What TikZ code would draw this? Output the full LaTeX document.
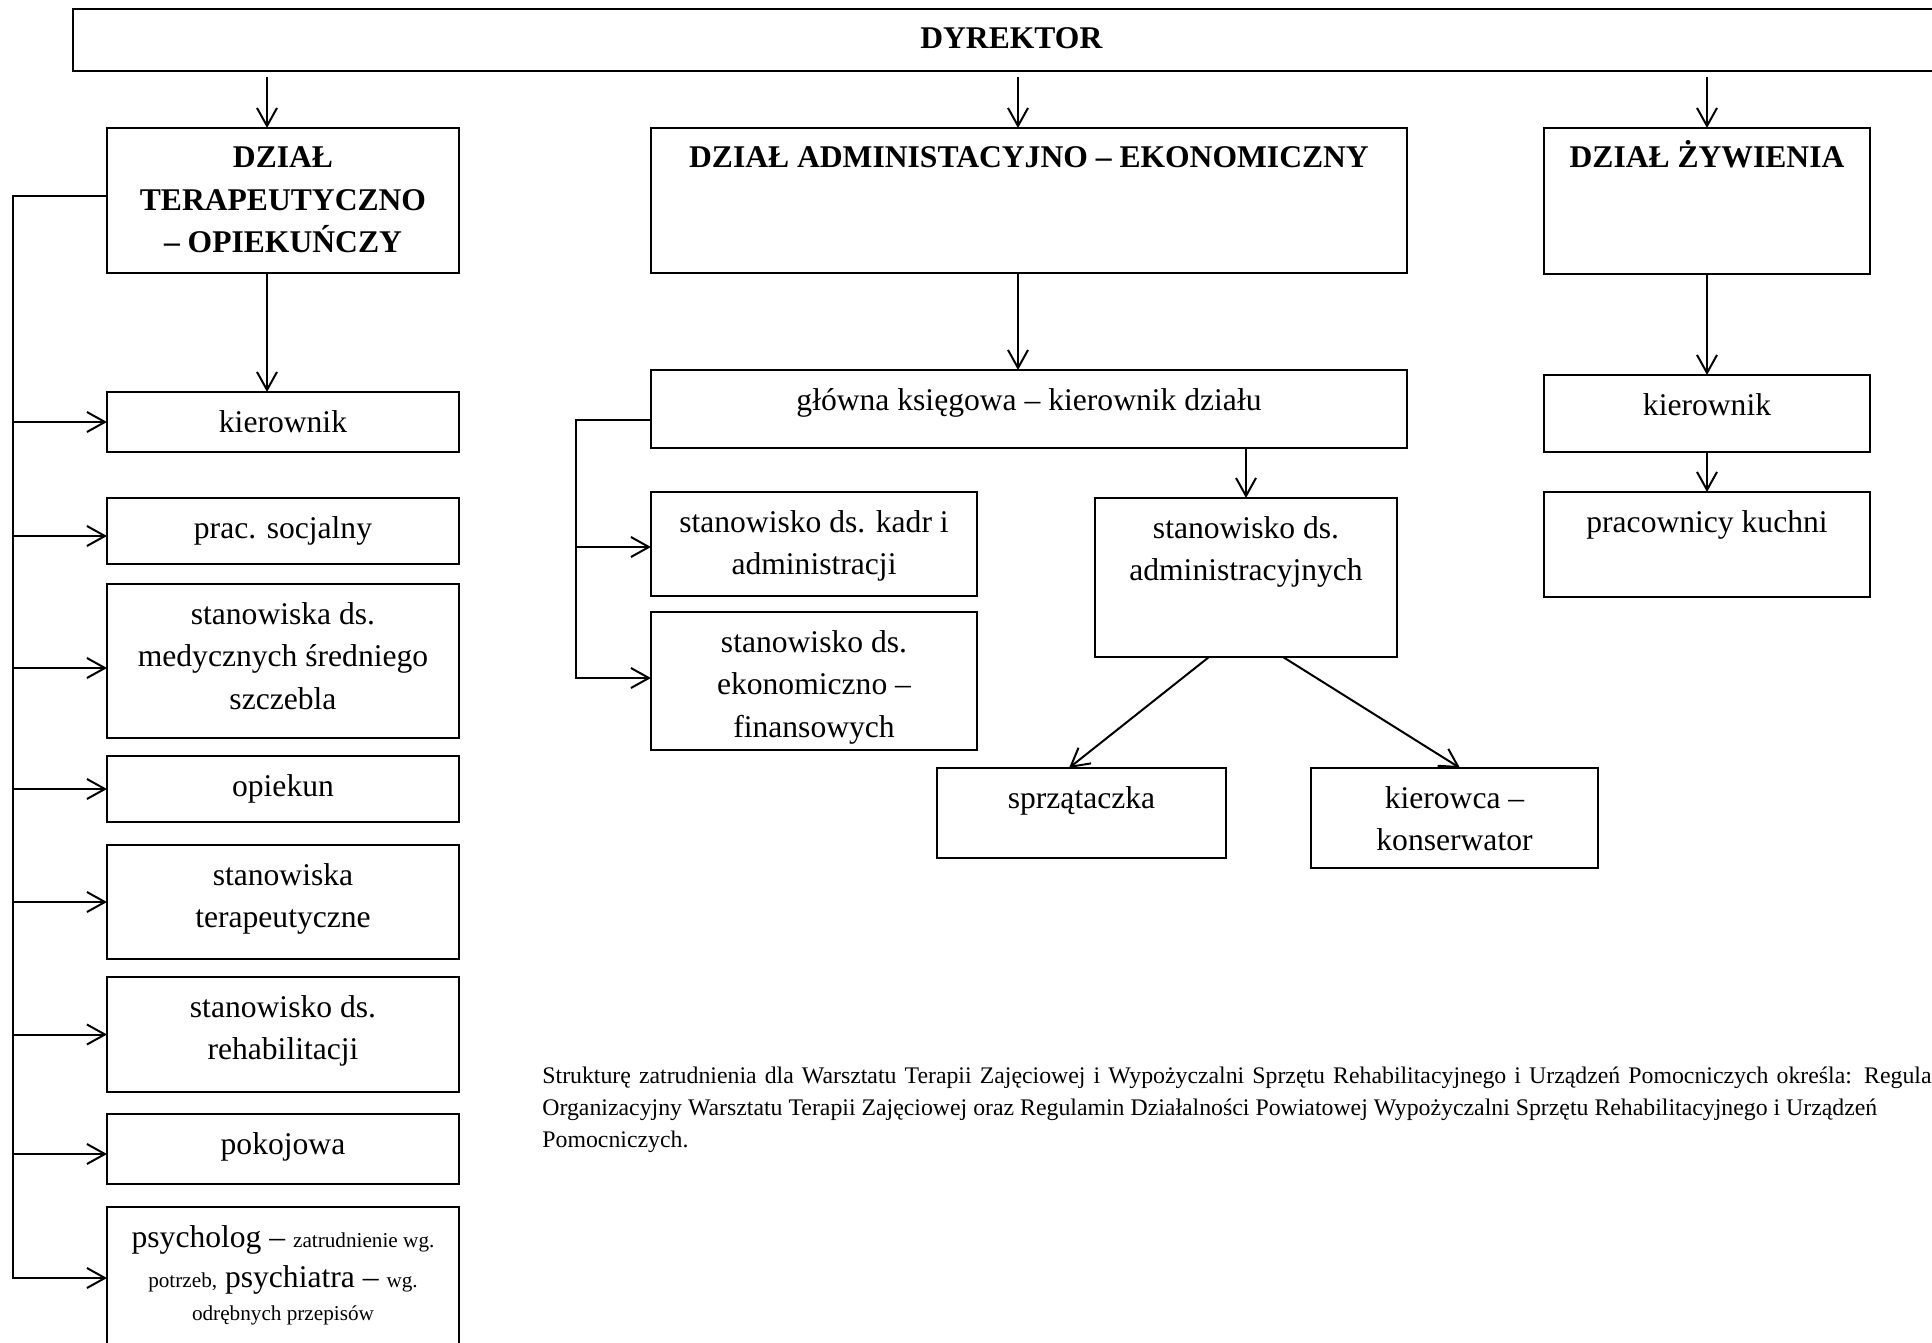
\documentclass[tikz,border=0pt]{standalone}
\usepackage{fontspec}
\setmainfont{Liberation Serif}
\usetikzlibrary{arrows.meta,calc}
\newcommand\fsA{\fontsize{15.8pt}{21.25pt}\selectfont}
\newcommand\fsB{\fontsize{10.6pt}{12pt}\selectfont}
\newcommand\BT[3]{\parbox[t][#2][t]{#1}{\centering\fsA\rule{0pt}{20pt}#3}}
\begin{document}
\begin{tikzpicture}[x=0.5pt,y=-0.5pt,
  box/.style={draw, line width=1pt, inner sep=0pt, outer sep=0pt, anchor=north west},
  arr/.style={-{Straight Barb[length=9pt,width=10pt]}, line width=1pt},
  arrin/.style={{Straight Barb[length=9pt,width=10pt]}-, line width=1pt},
  fn/.style={anchor=base west, inner sep=0pt, font=\fontsize{11.9pt}{14pt}\selectfont}]
\useasboundingbox (0,0) rectangle (1932,1343);
\clip (0,0) rectangle (1932,1343);
% top
\node[box] (dyr) at (73,9) {\BT{938.5pt}{31pt}{\textbf{DYREKTOR}}};
\node[box] (dzt) at (107,128) {\BT{176pt}{72.5pt}{\textbf{DZIAŁ\\TERAPEUTYCZNO\\– OPIEKUŃCZY}}};
\node[box] (dae) at (651,128) {\BT{378pt}{72.5pt}{\textbf{DZIAŁ ADMINISTACYJNO – EKONOMICZNY}}};
\node[box] (dzz) at (1544,128) {\BT{163pt}{73pt}{\textbf{DZIAŁ ŻYWIENIA}}};
% left column
\node[box] (kier) at (107,392) {\BT{176pt}{30pt}{kierownik}};
\node[box] (prac) at (107,498) {\BT{176pt}{33pt}{prac. socjalny}};
\node[box] (med) at (107,584) {\BT{176pt}{77pt}{stanowiska ds.\\medycznych średniego\\szczebla}};
\node[box] (opie) at (107,756) {\BT{176pt}{33pt}{opiekun}};
\node[box] (ter) at (107,845) {\BT{176pt}{57pt}{stanowiska\\terapeutyczne}};
\node[box] (reh) at (107,977) {\BT{176pt}{57.5pt}{stanowisko ds.\\rehabilitacji}};
\node[box] (pok) at (107,1114) {\BT{176pt}{35pt}{pokojowa}};
\node[box] (psy) at (107,1207) {\BT{176pt}{71pt}{psycholog – {\fsB zatrudnienie wg.}\par
  \fontsize{15.8pt}{20pt}\selectfont{\fsB potrzeb,} psychiatra – {\fsB wg.}\par
  \fontsize{10.6pt}{16.5pt}\selectfont odrębnych przepisów}};
% middle column
\node[box] (gk) at (651,370) {\BT{378pt}{39pt}{główna księgowa – kierownik działu}};
\node[box] (kadr) at (651,492) {\BT{163pt}{52pt}{stanowisko ds. kadr i\\administracji}};
\node[box] (ekon) at (651,612) {\BT{163pt}{69pt}{stanowisko ds.\\ekonomiczno –\\finansowych}};
\node[box] (adm) at (1095,498) {\BT{151pt}{79.5pt}{stanowisko ds.\\administracyjnych}};
\node[box] (sprz) at (937,768) {\BT{144.5pt}{45pt}{sprzątaczka}};
\node[box] (kie) at (1311,768) {\BT{143.5pt}{50pt}{kierowca –\\konserwator}};
% right column
\node[box] (kk) at (1544,375) {\BT{163pt}{38.5pt}{kierownik}};
\node[box] (pk) at (1544,492) {\BT{163pt}{52.5pt}{pracownicy kuchni}};
% vertical arrows
\draw[arr] ($(dyr.south -| dzt.north)+(-16,6)$) -- ($(dzt.north)+(-16,0)$);
\draw[arr] ($(dzt.south)+(-16,0)$) -- ($(kier.north)+(-16,0)$);
\draw[arr] ($(dyr.south -| dae.north)+(-11,6)$) -- ($(dae.north)+(-11,0)$);
\draw[arr] ($(dae.south)+(-11,0)$) -- ($(gk.north)+(-11,0)$);
\draw[arr] ($(dyr.south -| dzz.north)+(0,6)$) -- (dzz.north);
\draw[arr] (dzz.south) -- (kk.north);
\draw[arr] (kk.south) -- (pk.north);
\draw[arr] (gk.south -| adm.north) -- (adm.north);
\draw[arr] ($(adm.south west)+(114,0)$) -- ($(sprz.north west)+(132,0)$);
\draw[arr] ($(adm.south west)+(188,0)$) -- ($(kie.north west)+(149,0)$);
% left bracket
\coordinate (L) at (13,196);
\draw[arr] (dzt.west |- L) -- (L) |- (psy.west);
\draw[arrin] (kier.west) -- ++(-94,0);
\draw[arrin] ([yshift=-2.5pt]prac.west) -- ++(-94,0);
\draw[arrin] ([yshift=-3.5pt]med.west) -- ++(-94,0);
\draw[arrin] (opie.west) -- ++(-94,0);
\draw[arrin] (ter.west) -- ++(-94,0);
\draw[arrin] (reh.west) -- ++(-94,0);
\draw[arrin] ([yshift=-2.5pt]pok.west) -- ++(-94,0);
% middle bracket
\coordinate (M) at (576,420);
\draw[arr] (gk.west |- M) -- (M) |- ([yshift=1.5pt]ekon.west);
\draw[arrin] ([yshift=-1.5pt]kadr.west) -- ++(-75,0);
% footnote
\node[fn] (fn1) at (542,1083) {\makebox[694.5pt][s]{Strukturę zatrudnienia dla Warsztatu Terapii Zajęciowej i Wypożyczalni Sprzętu Rehabilitacyjnego i Urządzeń Pomocniczych określa: Regula}};
\node[fn] (fn2) at (542,1115) {Organizacyjny Warsztatu Terapii Zajęciowej oraz Regulamin Działalności Powiatowej Wypożyczalni Sprzętu Rehabilitacyjnego i Urządzeń};
\node[fn] (fn3) at (542,1147) {Pomocniczych.};
\end{tikzpicture}
\end{document}
